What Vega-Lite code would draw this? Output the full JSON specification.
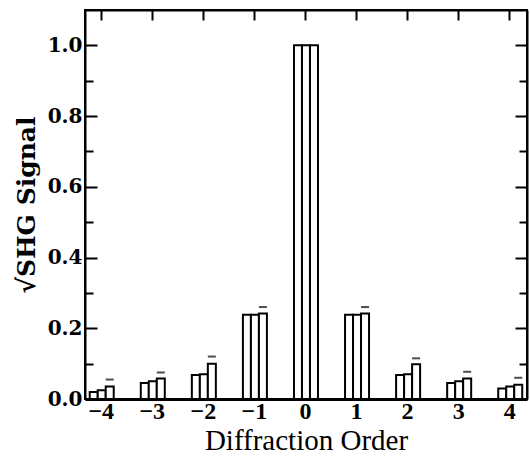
{
  "$schema": "https://vega.github.io/schema/vega-lite/v6.json",
  "width": 442,
  "height": 389,
  "autosize": "none",
  "padding": {"left": 85, "top": 10, "right": 3, "bottom": 60},
  "background": "white",
  "config": {
    "view": {"stroke": "black", "strokeWidth": 2},
    "axis": {
      "labelFont": "Liberation Serif",
      "labelFontWeight": "bold",
      "labelFontSize": 24,
      "labelColor": "black",
      "titleFont": "Liberation Serif",
      "titleFontSize": 29,
      "titleFontWeight": "normal",
      "titleColor": "black",
      "domainColor": "black",
      "domainWidth": 2,
      "tickColor": "black",
      "tickWidth": 2,
      "grid": false
    }
  },
  "data": {
    "values": [
      {"order": -4, "series": "a", "value": 0.02},
      {"order": -4, "series": "b", "value": 0.025},
      {"order": -4, "series": "c", "value": 0.035, "upper": 0.055},
      {"order": -3, "series": "a", "value": 0.045},
      {"order": -3, "series": "b", "value": 0.05},
      {"order": -3, "series": "c", "value": 0.058, "upper": 0.075},
      {"order": -2, "series": "a", "value": 0.068},
      {"order": -2, "series": "b", "value": 0.07},
      {"order": -2, "series": "c", "value": 0.1, "upper": 0.12},
      {"order": -1, "series": "a", "value": 0.238},
      {"order": -1, "series": "b", "value": 0.238},
      {"order": -1, "series": "c", "value": 0.242, "upper": 0.26},
      {"order": 0, "series": "a", "value": 1.0},
      {"order": 0, "series": "b", "value": 1.0},
      {"order": 0, "series": "c", "value": 1.0},
      {"order": 1, "series": "a", "value": 0.238},
      {"order": 1, "series": "b", "value": 0.238},
      {"order": 1, "series": "c", "value": 0.242, "upper": 0.26},
      {"order": 2, "series": "a", "value": 0.068},
      {"order": 2, "series": "b", "value": 0.07},
      {"order": 2, "series": "c", "value": 0.098, "upper": 0.115},
      {"order": 3, "series": "a", "value": 0.045},
      {"order": 3, "series": "b", "value": 0.05},
      {"order": 3, "series": "c", "value": 0.058, "upper": 0.077},
      {"order": 4, "series": "a", "value": 0.03},
      {"order": 4, "series": "b", "value": 0.035},
      {"order": 4, "series": "c", "value": 0.04, "upper": 0.06}
    ]
  },
  "layer": [
    {
      "transform": [{"filter": "datum.series === 'a'"}],
      "mark": {"type": "bar", "orient": "vertical", "width": 8, "xOffset": -7, "fill": "white", "stroke": "black", "strokeWidth": 2},
      "encoding": {
        "x": {
          "field": "order", "type": "quantitative",
          "scale": {"domain": [-4.21, 4.25], "nice": false, "zero": false},
          "axis": {"orient": "bottom", "values": [-4, -3, -2, -1, 0, 1, 2, 3, 4], "format": "d", "ticks": false, "labelPadding": 0, "title": "Diffraction Order", "titlePadding": 3, "domainWidth": 3}
        },
        "y": {
          "field": "value", "type": "quantitative",
          "scale": {"domain": [0, 1.1], "nice": false},
          "axis": {
            "orient": "left",
            "values": [0, 0.1, 0.2, 0.3, 0.4, 0.5, 0.6, 0.7, 0.8, 0.9, 1.0],
            "format": ".1f",
            "labelExpr": "round(datum.value*10) % 2 === 0 ? datum.label : ''",
            "labelFont": "DejaVu Serif",
            "labelFontSize": 20,
            "tickSize": {"condition": {"test": "round(datum.value*10) % 2 === 0", "value": -12}, "value": -8},
            "labelPadding": 15,
            "title": "√SHG Signal",
            "titleFont": "DejaVu Serif",
            "titleFontSize": 25,
            "titleFontWeight": "bold",
            "titlePadding": 8
          }
        }
      }
    },
    {
      "transform": [{"filter": "datum.series === 'b'"}],
      "mark": {"type": "bar", "orient": "vertical", "width": 8, "xOffset": 1, "fill": "white", "stroke": "black", "strokeWidth": 2},
      "encoding": {
        "x": {
          "field": "order", "type": "quantitative",
          "axis": {"orient": "top", "values": [-4, -3, -2, -1, 0, 1, 2, 3, 4], "labels": false, "tickSize": -10, "title": null}
        },
        "y": {
          "field": "value", "type": "quantitative",
          "axis": {
            "orient": "right",
            "values": [0, 0.1, 0.2, 0.3, 0.4, 0.5, 0.6, 0.7, 0.8, 0.9, 1.0],
            "labels": false,
            "tickSize": {"condition": {"test": "round(datum.value*10) % 2 === 0", "value": -12}, "value": -8},
            "title": null
          }
        }
      }
    },
    {
      "transform": [{"filter": "datum.series === 'c'"}],
      "mark": {"type": "bar", "orient": "vertical", "width": 8, "xOffset": 9, "fill": "white", "stroke": "black", "strokeWidth": 2},
      "encoding": {
        "x": {"field": "order", "type": "quantitative", "axis": null},
        "y": {"field": "value", "type": "quantitative", "axis": null}
      }
    },
    {
      "transform": [{"filter": "isValid(datum.upper)"}],
      "mark": {"type": "tick", "orient": "horizontal", "size": 8, "thickness": 2, "xOffset": 9, "color": "black"},
      "encoding": {
        "x": {"field": "order", "type": "quantitative", "axis": null},
        "y": {"field": "upper", "type": "quantitative", "axis": null}
      }
    }
  ]
}
